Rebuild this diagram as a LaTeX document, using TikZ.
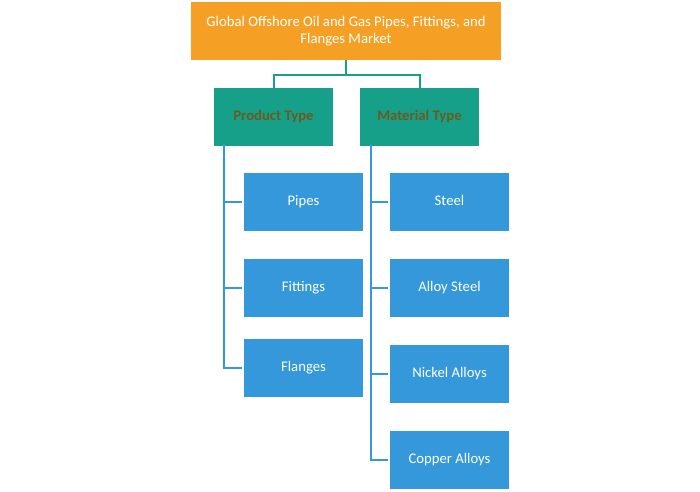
\documentclass[tikz,border=0pt]{standalone}
\usepackage{fontspec}
\setmainfont{Carlito}
\definecolor{headorange}{HTML}{F5A024}
\definecolor{segteal}{HTML}{16A08A}
\definecolor{itemblue}{HTML}{3498DB}
\definecolor{segtext}{HTML}{6B5B1E}
\begin{document}
\begin{tikzpicture}[x=1pt,y=-1pt]
		\tikzset{headbox/.style = {fill=headorange, text=white, minimum width=310pt, minimum height=58pt, align=center, inner sep=0pt, font=\fontsize{14.7}{17.5}\selectfont},
		segbox/.style = {fill=segteal, text=segtext, minimum width=119pt, minimum height=58pt, inner sep=0pt, text height=10.5pt, text depth=3pt, font=\fontsize{14.7}{17.5}\selectfont\bfseries},
		itembox/.style = {fill=itemblue, text=white, minimum width=119pt, minimum height=58pt, inner sep=0pt, text height=10.5pt, text depth=3pt, font=\fontsize{14.7}{17.5}\selectfont},
		tealline/.style = {draw=segteal, line width=2pt},
		blueline/.style = {draw=itemblue, line width=2pt}}

		\useasboundingbox (0,0) rectangle (700,491);

		\node[headbox] (market) at (346,31) {Global Offshore Oil and Gas Pipes, Fittings, and\\Flanges Market};

		\node[segbox] (product) at (273.5,117) {Product Type};
		\node[segbox] (material) at (419.5,117) {Material Type};

		\node[itembox] (pipes) at (303.5,202) {Pipes};
		\node[itembox] (fittings) at (303.5,288) {Fittings};
		\node[itembox] (flanges) at (303.5,368) {Flanges};

		\node[itembox] (steel) at (449.5,202) {Steel};
		\node[itembox] (alloysteel) at (449.5,288) {Alloy Steel};
		\node[itembox] (nickel) at (449.5,374) {Nickel Alloys};
		\node[itembox] (copper) at (449.5,460) {Copper Alloys};

		%segments
		\draw[tealline] (market.south) -- ++(0,15) -| (product.north);
		\draw[tealline] (market.south) -- ++(0,15) -| (material.north);

		%items
		\coordinate (prodstem) at ([xshift=-49.5pt,yshift=2pt]product.south);
		\coordinate (matstem) at ([xshift=-48.5pt,yshift=2pt]material.south);

		\draw[blueline, shorten >=2pt] (prodstem) |- (pipes.west);
		\draw[blueline, shorten >=2pt] (prodstem) |- (fittings.west);
		\draw[blueline, shorten >=2pt] (prodstem) |- (flanges.west);

		\draw[blueline, shorten >=2pt] (matstem) |- (steel.west);
		\draw[blueline, shorten >=2pt] (matstem) |- (alloysteel.west);
		\draw[blueline, shorten >=2pt] (matstem) |- (nickel.west);
		\draw[blueline, shorten >=2pt] (matstem) |- (copper.west);

	\end{tikzpicture}
\end{document}
